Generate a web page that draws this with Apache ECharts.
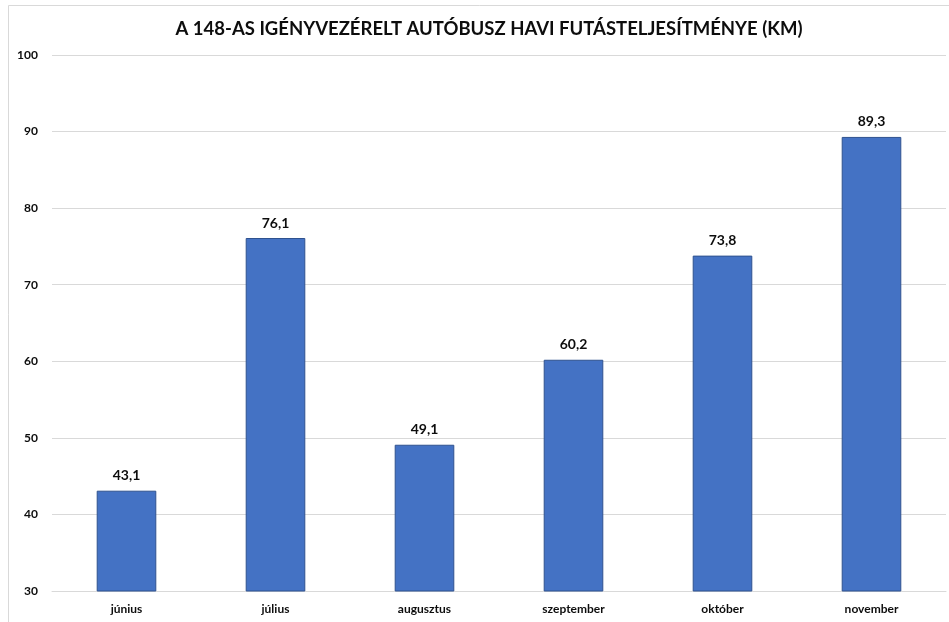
<!DOCTYPE html>
<html>
<head>
<meta charset="utf-8">
<script src="https://cdn.jsdelivr.net/npm/echarts@6/dist/echarts.min.js"></script>
<style>html,body{margin:0;padding:0;background:#fff;}#c{width:949px;height:622px;}</style>
</head>
<body>
<div id="c"></div>
<script>
const categories = ['június', 'július', 'augusztus', 'szeptember', 'október', 'november'];
const values = [43.1, 76.1, 49.1, 60.2, 73.8, 89.3];
const titleText = 'A 148-AS IGÉNYVEZÉRELT AUTÓBUSZ HAVI FUTÁSTELJESÍTMÉNYE (KM)';

const FONT = 'Lato, "Open Sans", sans-serif';
const chart = echarts.init(document.getElementById('c'));
chart.setOption({
  animation: false,
  backgroundColor: '#fff',
  title: {
    text: titleText,
    left: 484, top: 15, textAlign: 'center',
    textStyle: { fontFamily: FONT, fontSize: 18.5, fontWeight: 'bold', color: '#0d0d0d' }
  },
  graphic: [{
    type: 'rect', shape: { x: 8.5, y: 5.5, width: 960, height: 640 },
    style: { fill: 'none', stroke: '#d9d9d9', lineWidth: 1 }, silent: true
  }],
  grid: { left: 52, right: 3, top: 55, bottom: 31, containLabel: false },
  xAxis: {
    type: 'category', data: categories,
    axisLine: { lineStyle: { color: '#d9d9d9', width: 1 } },
    axisTick: { show: false },
    axisLabel: { fontFamily: FONT, fontSize: 12, fontWeight: 'bold', color: '#0d0d0d', margin: 12 }
  },
  yAxis: {
    type: 'value', min: 30, max: 100, interval: 10,
    axisLine: { show: false }, axisTick: { show: false },
    splitLine: { lineStyle: { color: '#d9d9d9', width: 1 } },
    axisLabel: { fontFamily: FONT, fontSize: 12, fontWeight: 'bold', color: '#0d0d0d', margin: 14 }
  },
  series: [{
    type: 'bar', data: values, barWidth: '40%',
    itemStyle: { color: '#4472c4', borderColor: '#2f528f', borderWidth: 1 },
    label: {
      show: true, position: 'top', distance: 8,
      fontFamily: FONT, fontSize: 14, fontWeight: 'bold', color: '#0d0d0d',
      formatter: p => p.value.toFixed(1).replace('.', ',')
    }
  }]
});
</script>
</body>
</html>
